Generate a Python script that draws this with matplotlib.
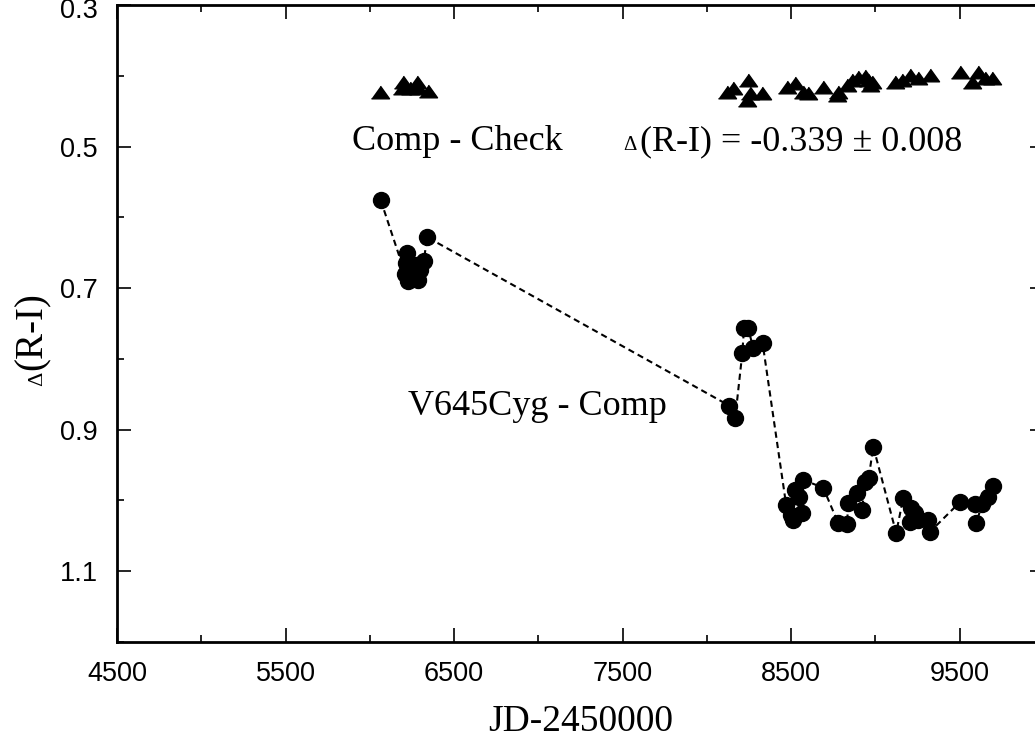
import numpy as np
import matplotlib.pyplot as plt
import matplotlib.transforms as mtransforms
from matplotlib.ticker import MultipleLocator

# V645Cyg - Comp  (JD-2450000, delta R-I)
jd_var = [6065, 6210, 6215, 6220, 6225, 6240, 6255, 6270, 6285, 6300, 6320, 6340,
          8132, 8168, 8210, 8220, 8245, 8275, 8330,
          8470, 8500, 8512, 8524, 8545, 8565, 8571, 8690, 8779, 8832, 8838,
          8892, 8921, 8939, 8960, 8987, 9123, 9165, 9206, 9210, 9236, 9254,
          9310, 9325, 9503, 9592, 9598, 9633, 9669, 9699]
dri_var = [0.576, 0.680, 0.665, 0.650, 0.690, 0.672, 0.683, 0.668, 0.688, 0.675, 0.662, 0.628,
           0.866, 0.883, 0.792, 0.757, 0.757, 0.785, 0.777,
           1.006, 1.020, 1.027, 0.985, 0.995, 1.018, 0.971, 0.982, 1.032, 1.033, 1.003,
           0.989, 1.013, 0.974, 0.968, 0.924, 1.046, 0.996, 1.030, 1.010, 1.018, 1.027,
           1.027, 1.044, 1.002, 1.005, 1.032, 1.005, 0.995, 0.979]

# Comp - Check
jd_chk = [6061, 6191, 6197, 6240, 6280, 6286, 6346,
          8120, 8156, 8239, 8245, 8257, 8328, 8476, 8524, 8571, 8601, 8690,
          8773, 8779, 8832, 8862, 8898, 8939, 8957, 8969, 8981, 9117, 9159,
          9206, 9254, 9325, 9503, 9574, 9610, 9651, 9693]
dri_chk = [0.423, 0.417, 0.409, 0.417, 0.409, 0.417, 0.421,
           0.423, 0.417, 0.434, 0.406, 0.424, 0.424, 0.416, 0.410, 0.423, 0.424, 0.416,
           0.427, 0.423, 0.413, 0.406, 0.402, 0.400, 0.406, 0.413, 0.409, 0.409, 0.406,
           0.399, 0.403, 0.399, 0.395, 0.409, 0.395, 0.403, 0.403]

xticks = [4500, 5500, 6500, 7500, 8500, 9500]
yticks = [0.3, 0.5, 0.7, 0.9, 1.1]

serif = "Liberation Serif"
sans = "Liberation Sans"

fig = plt.figure(figsize=(10.35, 7.44), dpi=100)
ax = fig.add_axes([117/1035, 102/744, 927/1035, 637/744])

tri = [(-1, -0.7), (1, -0.7), (0, 0.7)]
ax.plot(jd_chk, dri_chk, linestyle="none", marker=tri, markersize=13,
        color="black")
ax.plot(jd_var, dri_var, linestyle=(0, (3, 2)), linewidth=1.5, color="black",
        marker="o", markersize=11.5)

ax.set_xlim(4500, 10000)
ax.set_ylim(1.2, 0.3)
ax.xaxis.set_minor_locator(MultipleLocator(500))
ax.yaxis.set_minor_locator(MultipleLocator(0.1))
ax.set_xticks(xticks)
ax.set_yticks(yticks)
ax.set_yticklabels([f"{v:.1f}" for v in yticks])
ax.tick_params(which="both", direction="in", top=True, right=True,
               labelsize=19.5, width=1.2)
ax.tick_params(which="major", length=10, pad=14)
ax.tick_params(which="minor", length=5)
for lab in ax.get_xticklabels() + ax.get_yticklabels():
    lab.set_fontfamily(sans)
# top label sits a little lower, as in the original
top = ax.get_yticklabels()[0]
top.set_transform(top.get_transform() +
                  mtransforms.ScaledTranslation(0, -3/100, fig.dpi_scale_trans))
for sp in ax.spines.values():
    sp.set_linewidth(2)

ax.set_xlabel("JD-2450000", fontfamily=serif, fontsize=27, labelpad=12)

# y label: small delta + (R-I)
fig.text(32/1035, 1 - 370/744, "(R-I)", rotation=90, ha="center", va="bottom",
         fontfamily=serif, fontsize=28)
fig.text(38/1035, 1 - 372/744, "Δ", rotation=90, ha="center", va="top",
         fontfamily=serif, fontsize=16)

ax.text(5895, 0.505, "Comp - Check", fontfamily=serif, fontsize=26,
        va="baseline")
ax.text(7503, 0.505, "Δ", fontfamily=serif, fontsize=15, va="baseline")
ax.text(7604, 0.505, "(R-I) = -0.339 ± 0.008", fontfamily=serif, fontsize=26,
        va="baseline")
ax.text(6227, 0.879, "V645Cyg - Comp", fontfamily=serif, fontsize=26,
        va="baseline")

fig.savefig("out.png", dpi=100)
